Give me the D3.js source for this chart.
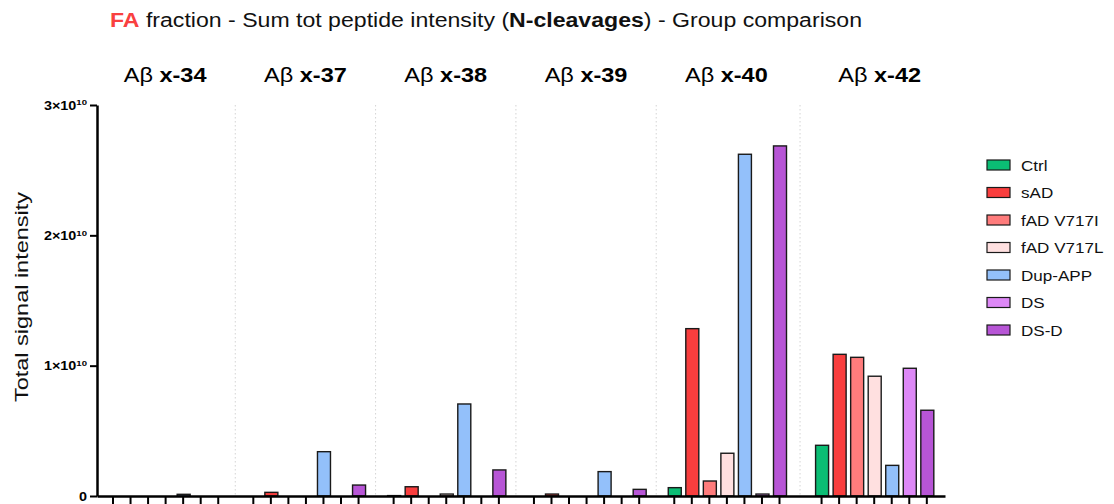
<!DOCTYPE html>
<html>
<head>
<meta charset="utf-8">
<script src="https://cdn.jsdelivr.net/npm/d3@7"></script>
<style>
  html, body { margin: 0; padding: 0; background: #fff; }
  svg { display: block; font-family: "Liberation Sans", Arial, sans-serif; }
</style>
</head>
<body>
<svg id="chart" width="1114" height="504"></svg>
<script>
// Cleavage sites (one panel per Aβ C-terminus)
const sites = ["x-34", "x-37", "x-38", "x-39", "x-40", "x-42"];

// Patient groups
const groups = ["Ctrl", "sAD", "fAD V717I", "fAD V717L", "Dup-APP", "DS", "DS-D"];
const groupColors = ["#0bbd74", "#f93e3e", "#ff7c7c", "#ffe0e0", "#93c0fa", "#dd88f6", "#b755d6"];

// Summed peptide intensity per group, one array per cleavage site
const valuesX34 = [0, 0, 0, 0, 1.3e8, 0, 0];
const valuesX37 = [0, 2.8e8, 0, 0, 3.4e9, 0, 8.4e8];
const valuesX38 = [3e7, 7.1e8, 0, 1.5e8, 7.06e9, 0, 2.0e9];
const valuesX39 = [0, 1.5e8, 0, 0, 1.87e9, 0, 5.1e8];
const valuesX40 = [6.4e8, 1.284e10, 1.15e9, 3.28e9, 2.622e10, 1.5e8, 2.686e10];
const valuesX42 = [3.89e9, 1.087e10, 1.064e10, 9.19e9, 2.35e9, 9.8e9, 6.58e9];
const siteValues = [valuesX34, valuesX37, valuesX38, valuesX39, valuesX40, valuesX42];

// Y axis ticks: mantissa × 10^exponent
const yTicks = [0, 1e10, 2e10, 3e10];
const yTickLabels = ["0", "1×10", "2×10", "3×10"];
const yTickExponent = "10";

const svg = d3.select("#chart");

const plotTop = 105, plotBottom = 496, axisLeft = 97, axisRight = 945;
const slotsPerSite = groups.length + 1;

// Widen a text element horizontally about its anchor point
function widen(sel, sx) {
  sel.each(function () {
    const t = d3.select(this);
    const ax = +t.attr("x") || 0;
    t.attr("transform", `translate(${ax},0) scale(${sx},1) translate(${-ax},0)`);
  });
}

const y = d3.scaleLinear().domain([0, 3e10]).range([plotBottom, plotTop]);

// slot index -> pixel; the last panel sits a little further right
const x = d3.scaleLinear().domain([0, 38]).range([112.5, 779]);
const lastPanelShift = 7;
function slotX(s, g) {
  return x(s * slotsPerSite + g) + (s === sites.length - 1 ? lastPanelShift : 0);
}

const bars = [];
siteValues.forEach((vals, s) => vals.forEach((v, g) => bars.push({ s, g, v })));

// Dotted separators between panels
const sepX = [];
for (let s = 0; s < sites.length - 1; s++) {
  sepX.push((slotX(s, groups.length - 1) + slotX(s + 1, 0)) / 2);
}
svg.append("g").selectAll("line").data(sepX).join("line")
  .attr("x1", d => d).attr("x2", d => d)
  .attr("y1", plotTop).attr("y2", plotBottom)
  .attr("stroke", "#d4d4d4").attr("stroke-width", 1)
  .attr("stroke-dasharray", "1.5,2.5");

// Bars
const barW = 13;
svg.append("g").selectAll("rect").data(bars.filter(d => d.v > 0)).join("rect")
  .attr("x", d => slotX(d.s, d.g) - barW / 2 + 1)
  .attr("width", barW)
  .attr("y", d => y(d.v))
  .attr("height", d => plotBottom - y(d.v))
  .attr("fill", d => groupColors[d.g])
  .attr("stroke", "#1a1a1a").attr("stroke-width", 1.4);

// X axis: one tick per bar, no labels
const xTickPos = bars.map(d => slotX(d.s, d.g));
const xAxisScale = d3.scaleLinear().domain([axisLeft, axisRight]).range([axisLeft, axisRight]);
const xAxis = svg.append("g").attr("transform", `translate(0,${plotBottom})`)
  .call(d3.axisBottom(xAxisScale).tickValues(xTickPos).tickSize(9).tickSizeOuter(0).tickFormat(""));
xAxis.select(".domain").attr("stroke", "#000").attr("stroke-width", 2.5);
xAxis.selectAll(".tick line").attr("stroke", "#000").attr("stroke-width", 2);

// Y axis
const yAxis = svg.append("g").attr("transform", `translate(${axisLeft},0)`)
  .call(d3.axisLeft(y).tickValues(yTicks).tickSize(7).tickSizeOuter(0).tickFormat(""));
yAxis.select(".domain").attr("stroke", "#000").attr("stroke-width", 2.5);
yAxis.selectAll(".tick line").attr("stroke", "#000").attr("stroke-width", 2);
yAxis.selectAll(".tick").each(function (d, i) {
  const t = d3.select(this).append("text")
    .attr("x", -10).attr("dy", "0.36em")
    .attr("text-anchor", "end")
    .attr("fill", "#000")
    .attr("font-size", 12).attr("font-weight", "bold");
  t.append("tspan").text(yTickLabels[i]);
  if (i > 0) {
    t.append("tspan").attr("font-size", 8).attr("dy", "-0.55em").text(yTickExponent);
  }
  widen(t, 1.2);
});

// Y axis title
svg.append("text")
  .attr("transform", `translate(28,297) rotate(-90)`)
  .attr("text-anchor", "middle")
  .attr("font-size", 19).attr("fill", "#111")
  .attr("textLength", 210).attr("lengthAdjust", "spacingAndGlyphs")
  .text("Total signal intensity");

// Panel headings
const heads = svg.append("g").selectAll("text").data(sites).join("text")
  .attr("x", (d, s) => (slotX(s, 0) + slotX(s, groups.length - 1)) / 2 + (s === sites.length - 1 ? 6 : 0))
  .attr("y", 82)
  .attr("text-anchor", "middle")
  .attr("font-size", 21).attr("fill", "#000");
heads.append("tspan").text("Aβ ");
heads.append("tspan").attr("font-weight", "bold").text(d => d);
widen(heads, 1.12);

// Title
const title = svg.append("text").attr("x", 110).attr("y", 27).attr("font-size", 20).attr("fill", "#111")
  .attr("textLength", 752).attr("lengthAdjust", "spacingAndGlyphs");
title.append("tspan").attr("font-weight", "bold").attr("fill", "#f94040").text("FA");
title.append("tspan").text(" fraction - Sum tot peptide intensity (");
title.append("tspan").attr("font-weight", "bold").text("N-cleavages");
title.append("tspan").text(") - Group comparison");

// Legend
const legend = svg.append("g").selectAll("g").data(groups).join("g")
  .attr("transform", (d, i) => `translate(987,${165 + i * 27.5})`);
legend.append("rect")
  .attr("x", 0).attr("y", -5).attr("width", 23).attr("height", 10)
  .attr("fill", (d, i) => groupColors[i])
  .attr("stroke", "#1a1a1a").attr("stroke-width", 1.2);
const legendText = legend.append("text")
  .attr("x", 34).attr("dy", "0.36em")
  .attr("font-size", 15.5).attr("fill", "#111")
  .text(d => d);
widen(legendText, 1.1);
</script>
</body>
</html>
